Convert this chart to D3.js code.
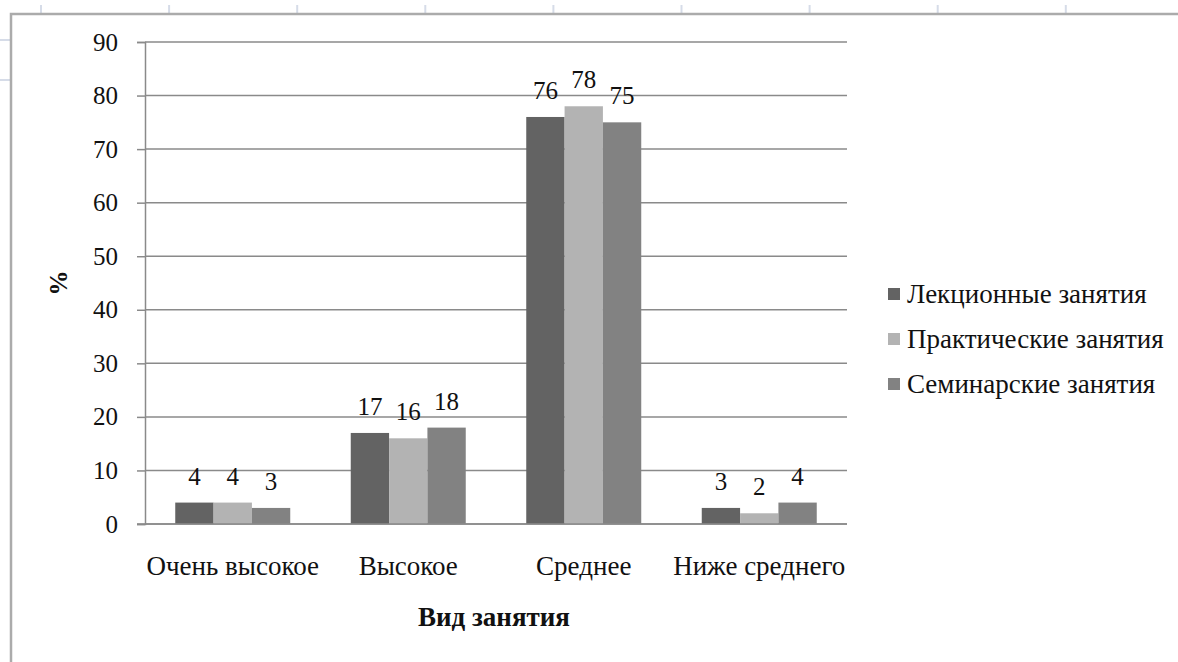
<!DOCTYPE html>
<html>
<head>
<meta charset="utf-8">
<script src="https://cdn.jsdelivr.net/npm/d3@7"></script>
<style>
  body { margin: 0; background: #fff; }
  svg { display: block; }
  svg text { font-family: "Liberation Serif", "DejaVu Serif", serif; fill: #111; }
</style>
</head>
<body id="body">
<svg></svg>
<script>
var width = 1178;
var height = 662;

var categories = ["Очень высокое", "Высокое", "Среднее", "Ниже среднего"];
var seriesNames = ["Лекционные занятия", "Практические занятия", "Семинарские занятия"];
var lectures = [4, 17, 76, 3];
var practice = [4, 16, 78, 2];
var seminars = [3, 18, 75, 4];
var yTicks = [0, 10, 20, 30, 40, 50, 60, 70, 80, 90];
var colors = ["#636363", "#b3b3b3", "#828282"];

var seriesValues = [lectures, practice, seminars];
var data = categories.map(function (c, i) {
  return {
    category: c,
    values: seriesNames.map(function (s, j) {
      return {series: s, value: seriesValues[j][i]};
    })
  };
});

var numSize = 25;
var textSize = 27;

var svg = d3.select("svg")
  .attr("width", width)
  .attr("height", height);

svg.append("rect")
  .attr("width", width)
  .attr("height", height)
  .attr("fill", "#fff");

// sheet grid remnants behind the chart frame
var sheet = svg.append("g").attr("class", "sheet");
sheet.selectAll("line.col")
  .data(d3.range(0, 9))
  .enter().append("line")
  .attr("class", "col")
  .attr("x1", function (d) { return 41 + d * 128.1; })
  .attr("x2", function (d) { return 41 + d * 128.1; })
  .attr("y1", 5)
  .attr("y2", 13)
  .attr("stroke", "#d6dce8")
  .attr("stroke-width", 2);
sheet.selectAll("line.row")
  .data([40, 80])
  .enter().append("line")
  .attr("class", "row")
  .attr("x1", 0)
  .attr("x2", 10)
  .attr("y1", function (d) { return d; })
  .attr("y2", function (d) { return d; })
  .attr("stroke", "#d6dce8")
  .attr("stroke-width", 2);

// chart frame
svg.append("path")
  .attr("d", "M11," + height + "V14H" + width)
  .attr("fill", "none")
  .attr("stroke", "#ababab")
  .attr("stroke-width", 2.5);

var plot = {left: 145, right: 847, top: 42, bottom: 524};

var y = d3.scaleLinear()
  .domain([0, 90])
  .range([plot.bottom, plot.top]);

var x0 = d3.scaleBand()
  .domain(categories)
  .range([plot.left, plot.right]);

var groupWidth = 115;
var x1 = d3.scaleBand()
  .domain(seriesNames)
  .range([(x0.bandwidth() - groupWidth) / 2, (x0.bandwidth() + groupWidth) / 2]);

var color = d3.scaleOrdinal()
  .domain(seriesNames)
  .range(colors);

// gridlines
svg.append("g")
  .attr("class", "grid")
  .selectAll("line")
  .data(yTicks)
  .enter().append("line")
  .attr("x1", plot.left)
  .attr("x2", plot.right)
  .attr("y1", function (d) { return y(d); })
  .attr("y2", function (d) { return y(d); })
  .attr("stroke", "#8a8a8a")
  .attr("stroke-width", 1.5);

// y axis
var yAxis = svg.append("g")
  .attr("transform", "translate(" + plot.left + ",0)")
  .call(d3.axisLeft(y).tickValues(yTicks).tickSize(8).tickPadding(19));
yAxis.attr("font-family", null);
yAxis.select(".domain")
  .attr("stroke", "#8a8a8a")
  .attr("stroke-width", 1.5);
yAxis.selectAll(".tick line")
  .attr("stroke", "#8a8a8a")
  .attr("stroke-width", 1.5);
yAxis.selectAll(".tick text")
  .attr("font-size", numSize)
  .attr("fill", "#111");

// bars
var groups = svg.append("g")
  .selectAll("g")
  .data(data)
  .enter().append("g")
  .attr("transform", function (d) { return "translate(" + x0(d.category) + ",0)"; });

groups.selectAll("rect")
  .data(function (d) { return d.values; })
  .enter().append("rect")
  .attr("x", function (d) { return x1(d.series); })
  .attr("y", function (d) { return y(d.value); })
  .attr("width", x1.bandwidth())
  .attr("height", function (d) { return y(0) - y(d.value); })
  .attr("fill", function (d) { return color(d.series); });

groups.selectAll("text")
  .data(function (d) { return d.values; })
  .enter().append("text")
  .attr("x", function (d) { return x1(d.series) + x1.bandwidth() / 2; })
  .attr("y", function (d) { return y(d.value) - 18; })
  .attr("text-anchor", "middle")
  .attr("font-size", numSize)
  .text(function (d) { return d.value; });

// x axis baseline
svg.append("line")
  .attr("x1", plot.left - 8)
  .attr("x2", plot.right)
  .attr("y1", y(0))
  .attr("y2", y(0))
  .attr("stroke", "#8a8a8a")
  .attr("stroke-width", 1.5);

// category labels
svg.append("g")
  .selectAll("text")
  .data(categories)
  .enter().append("text")
  .attr("x", function (d) { return x0(d) + x0.bandwidth() / 2; })
  .attr("y", 575)
  .attr("text-anchor", "middle")
  .attr("font-size", textSize)
  .text(function (d) { return d; });

// axis titles
svg.append("text")
  .attr("x", 494)
  .attr("y", 626)
  .attr("text-anchor", "middle")
  .attr("font-size", textSize)
  .attr("font-weight", "bold")
  .text("Вид занятия");

svg.append("text")
  .attr("transform", "translate(67,283) rotate(-90)")
  .attr("text-anchor", "middle")
  .attr("font-size", numSize)
  .attr("font-weight", "bold")
  .text("%");

// legend
var legend = svg.append("g")
  .selectAll("g")
  .data(seriesNames)
  .enter().append("g")
  .attr("transform", function (d, i) { return "translate(888," + (294 + i * 45) + ")"; });

legend.append("rect")
  .attr("x", 0)
  .attr("y", -6)
  .attr("width", 12)
  .attr("height", 12)
  .attr("fill", function (d) { return color(d); });

legend.append("text")
  .attr("x", 19)
  .attr("y", 9)
  .attr("font-size", textSize)
  .text(function (d) { return d; });
</script>
</body>
</html>
